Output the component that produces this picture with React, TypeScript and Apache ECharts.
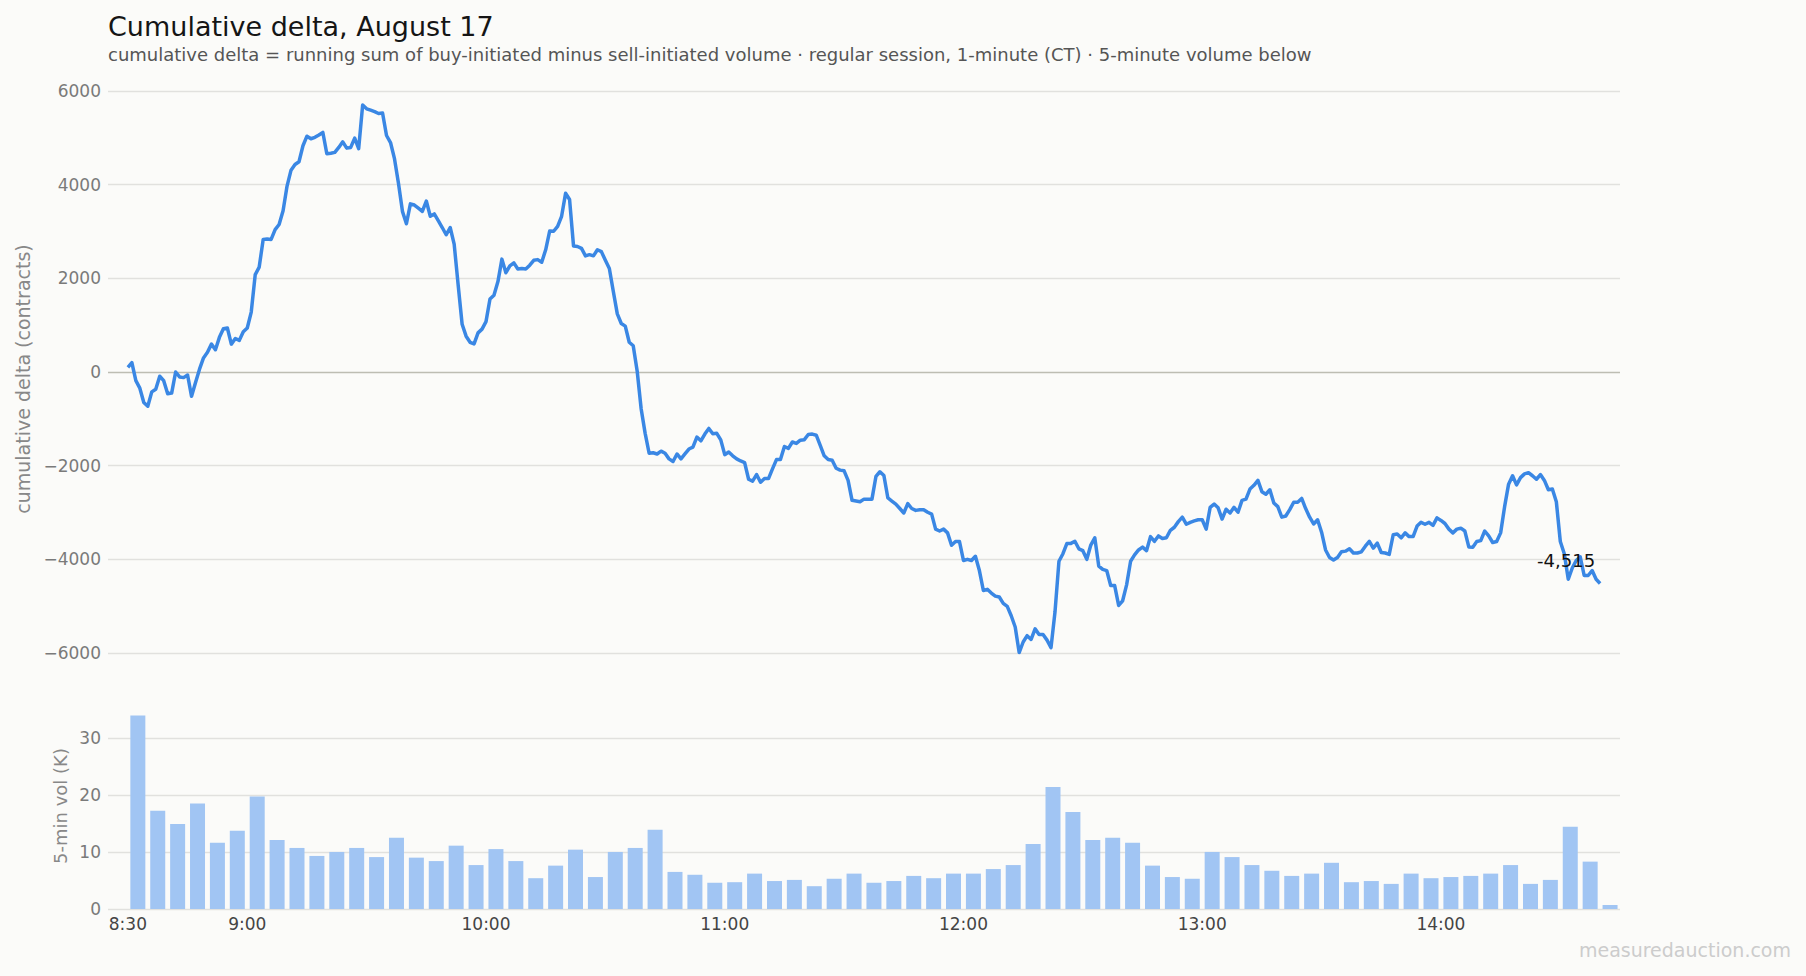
import React, { useEffect, useRef } from "react";
import * as echarts from "echarts";

// minutes after midnight (CT)
const SESSION_START = 510; // 8:30
const AXIS_MIN = 505;
const AXIS_MAX = 885;
const TIME_LABELS = [510, 540, 600, 660, 720, 780, 840];
const BAR_MINUTES = 5;

const TITLE = "Cumulative delta, August 17";
const SUBTITLE =
  "cumulative delta = running sum of buy-initiated minus sell-initiated volume · regular session, 1-minute (CT) · 5-minute volume below";
const WATERMARK = "measuredauction.com";
const DELTA_NAME = "cumulative delta (contracts)";
const VOL_NAME = "5-min vol (K)";

// cumulative delta, one value per minute from 8:30
const cumDelta = [
  100, 200, -185, -345, -650, -730, -425, -370, -90, -185,
  -465, -450, 0, -105, -120, -65, -520, -225, 60, 300,
  420, 595, 475, 740, 925, 940, 595, 715, 675, 860,
  940, 1280, 2080, 2240, 2830, 2840, 2830, 3040, 3150, 3445,
  3970, 4310, 4430, 4490, 4830, 5035, 4980, 5010, 5060, 5115,
  4660, 4670, 4690, 4795, 4915, 4780, 4795, 4995, 4770, 5700,
  5620, 5590, 5560, 5520, 5530, 5050, 4900, 4555, 4030, 3430,
  3165, 3590, 3565, 3500, 3430, 3650, 3325, 3375, 3230, 3085,
  2930, 3085, 2730, 1860, 1020, 765, 635, 600, 835, 915,
  1075, 1560, 1640, 1930, 2410, 2120, 2265, 2330, 2200, 2210,
  2200, 2280, 2385, 2400, 2345, 2610, 3010, 3005, 3110, 3325,
  3815, 3685, 2690, 2680, 2640, 2480, 2505, 2480, 2610, 2570,
  2385, 2210, 1720, 1240, 1035, 980, 635, 560, 15, -790,
  -1310, -1735, -1725, -1750, -1690, -1735, -1855, -1910, -1750, -1855,
  -1750, -1645, -1605, -1390, -1470, -1325, -1205, -1320, -1310, -1450,
  -1765, -1710, -1790, -1855, -1900, -1935, -2290, -2330, -2190, -2355,
  -2275, -2275, -2070, -1870, -1870, -1590, -1630, -1495, -1525, -1455,
  -1445, -1335, -1325, -1350, -1565, -1790, -1870, -1885, -2055, -2095,
  -2110, -2315, -2740, -2755, -2770, -2715, -2715, -2715, -2230, -2130,
  -2210, -2690, -2755, -2820, -2915, -3010, -2810, -2915, -2955, -2940,
  -2940, -2995, -3035, -3355, -3395, -3355, -3435, -3700, -3620, -3620,
  -4025, -4000, -4025, -3935, -4240, -4665, -4640, -4720, -4785, -4805,
  -4940, -5005, -5205, -5445, -5990, -5765, -5630, -5710, -5485, -5605,
  -5605, -5725, -5885, -5125, -4040, -3880, -3660, -3660, -3615, -3775,
  -3815, -4000, -3695, -3540, -4145, -4215, -4240, -4560, -4560, -4985,
  -4885, -4545, -4040, -3905, -3800, -3740, -3815, -3515, -3615, -3500,
  -3555, -3540, -3380, -3315, -3195, -3100, -3250, -3210, -3180, -3155,
  -3155, -3355, -2890, -2820, -2900, -3140, -2930, -3010, -2890, -2995,
  -2740, -2715, -2500, -2420, -2315, -2555, -2610, -2515, -2795, -2875,
  -3100, -3075, -2940, -2780, -2780, -2700, -2915, -3100, -3245, -3155,
  -3420, -3800, -3960, -4015, -3960, -3840, -3825, -3775, -3865, -3865,
  -3840, -3720, -3615, -3760, -3655, -3855, -3865, -3895, -3475, -3460,
  -3540, -3435, -3515, -3515, -3290, -3210, -3250, -3210, -3275, -3115,
  -3170, -3235, -3355, -3435, -3355, -3335, -3395, -3735, -3740, -3620,
  -3600, -3395, -3500, -3640, -3620, -3435, -2875, -2395, -2215, -2410,
  -2255, -2175, -2150, -2215, -2290, -2190, -2315, -2515, -2500, -2770,
  -3620, -3880, -4425, -4185, -4025, -3945, -4345, -4345, -4240, -4425,
  -4515,
];

// 5-minute volume, thousands of contracts, from 8:30
const vol5m = [
  33.9, 17.2, 14.9, 18.5, 11.6, 13.7, 19.7, 12.1, 10.7, 9.3,
  10.0, 10.7, 9.1, 12.5, 9.0, 8.4, 11.1, 7.7, 10.5, 8.4,
  5.4, 7.6, 10.4, 5.6, 10.0, 10.7, 13.9, 6.5, 6.0, 4.6,
  4.7, 6.2, 4.9, 5.1, 4.0, 5.3, 6.2, 4.6, 4.9, 5.8,
  5.4, 6.2, 6.2, 7.0, 7.7, 11.4, 21.4, 17.0, 12.1, 12.5,
  11.6, 7.6, 5.6, 5.3, 10.0, 9.1, 7.7, 6.7, 5.8, 6.2,
  8.1, 4.7, 4.9, 4.4, 6.2, 5.4, 5.6, 5.8, 6.2, 7.7,
  4.4, 5.1, 14.4, 8.3, 0.7,
];

const DELTA_MIN = -6000;
const DELTA_MAX = 6000;
const DELTA_STEP = 2000;
const VOL_MAX = 34;
const VOL_STEP = 10;

const FONT = "DejaVu Sans";
const LINE_COLOR = "#3a87e4";
const BAR_COLOR = "#a1c5f3";
const GRID_COLOR = "#e1e1de";
const ZERO_COLOR = "#bdbdb3";
const NAME_COLOR = "#888888";

const fmtTime = (v: number) => `${Math.floor(v / 60)}:${String(v % 60).padStart(2, "0")}`;
const fmtDelta = (v: number) => (v < 0 ? "\u2212" + Math.abs(v) : String(v));

export default function App() {
  const ref = useRef<HTMLDivElement>(null);

  useEffect(() => {
    document.body.style.margin = "0";
    const el = ref.current!;
    const chart = echarts.init(el, null, { renderer: "svg" });

    const lineData = cumDelta.map((v, i) => [SESSION_START + i, v]);
    const barData = vol5m.map((v, i) => [SESSION_START + i * BAR_MINUTES + BAR_MINUTES / 2, v]);
    const last = lineData[lineData.length - 1];

    const deltaTickCount = (DELTA_MAX - DELTA_MIN) / DELTA_STEP + 1;
    const deltaSplitColors = Array.from({ length: deltaTickCount }, (_, i) =>
      DELTA_MIN + i * DELTA_STEP === 0 ? ZERO_COLOR : GRID_COLOR
    );
    const volSplitColors = [GRID_COLOR, GRID_COLOR, GRID_COLOR, GRID_COLOR, "rgba(0,0,0,0)"];

    chart.setOption({
      animation: false,
      backgroundColor: "#fbfbf9",
      textStyle: { fontFamily: FONT },
      title: [
        {
          text: TITLE,
          left: 108,
          top: 13,
          padding: 0,
          textStyle: { fontFamily: FONT, fontSize: 27, fontWeight: "normal", color: "#151515" },
        },
        {
          text: SUBTITLE,
          left: 108,
          top: 45,
          padding: 0,
          textStyle: { fontFamily: FONT, fontSize: 18, fontWeight: "normal", color: "#555555" },
        },
        {
          text: WATERMARK,
          right: 15,
          top: 940,
          padding: 0,
          textStyle: { fontFamily: FONT, fontSize: 19, fontWeight: "normal", color: "#cccccc" },
        },
      ],
      graphic: [
        {
          type: "text",
          x: 23,
          y: 379,
          rotation: Math.PI / 2,
          silent: true,
          style: {
            text: DELTA_NAME,
            fill: NAME_COLOR,
            font: `19px "${FONT}"`,
            align: "center",
            verticalAlign: "middle",
          },
        },
        {
          type: "text",
          x: 60,
          y: 806,
          rotation: Math.PI / 2,
          silent: true,
          style: {
            text: VOL_NAME,
            fill: NAME_COLOR,
            font: `18px "${FONT}"`,
            align: "center",
            verticalAlign: "middle",
          },
        },
      ],
      grid: [
        { left: 108, right: 186, top: 91, height: 562 },
        { left: 108, right: 186, top: 715, height: 194 },
      ],
      xAxis: [
        {
          type: "value",
          gridIndex: 0,
          min: AXIS_MIN,
          max: AXIS_MAX,
          show: false,
        },
        {
          type: "value",
          gridIndex: 1,
          min: AXIS_MIN,
          max: AXIS_MAX,
          axisLine: { show: false },
          axisTick: { show: false },
          splitLine: { show: false },
          axisLabel: {
            customValues: TIME_LABELS,
            formatter: (v: number) => fmtTime(v),
            color: "#444444",
            fontSize: 17,
            fontFamily: FONT,
            margin: 6,
          },
        },
      ],
      yAxis: [
        {
          type: "value",
          gridIndex: 0,
          min: DELTA_MIN,
          max: DELTA_MAX,
          interval: DELTA_STEP,
          axisLine: { show: false },
          axisTick: { show: false },
          axisLabel: {
            formatter: (v: number) => fmtDelta(v),
            color: "#7a7a7a",
            fontSize: 17,
            fontFamily: FONT,
            margin: 7,
          },
          splitLine: { show: true, lineStyle: { color: deltaSplitColors, width: 1.3 } },
        },
        {
          type: "value",
          gridIndex: 1,
          min: 0,
          max: VOL_MAX,
          interval: VOL_STEP,
          axisLine: { show: false },
          axisTick: { show: false },
          axisLabel: {
            formatter: (v: number) => (v % VOL_STEP === 0 ? String(v) : ""),
            color: "#7a7a7a",
            fontSize: 17,
            fontFamily: FONT,
            margin: 7,
          },
          splitLine: { show: true, lineStyle: { color: volSplitColors, width: 1.3 } },
        },
      ],
      series: [
        {
          type: "line",
          xAxisIndex: 0,
          yAxisIndex: 0,
          data: lineData,
          showSymbol: false,
          symbol: "none",
          lineStyle: { color: LINE_COLOR, width: 3.5, join: "round" },
          itemStyle: { color: LINE_COLOR },
          silent: true,
          markPoint: {
            symbol: "circle",
            symbolSize: 0,
            silent: true,
            data: [{ coord: last, value: last[1] }],
            label: {
              show: true,
              position: "left",
              distance: 5,
              offset: [0, -23],
              formatter: () => last[1].toLocaleString("en-US"),
              color: "#111111",
              fontSize: 18,
              fontFamily: FONT,
            },
          },
        },
        {
          type: "bar",
          xAxisIndex: 1,
          yAxisIndex: 1,
          data: barData,
          barWidth: 15,
          itemStyle: { color: BAR_COLOR },
          silent: true,
        },
      ],
    });

    return () => chart.dispose();
  }, []);

  return <div ref={ref} style={{ position: "fixed", left: 0, top: 0, width: 1806, height: 976 }} />;
}
